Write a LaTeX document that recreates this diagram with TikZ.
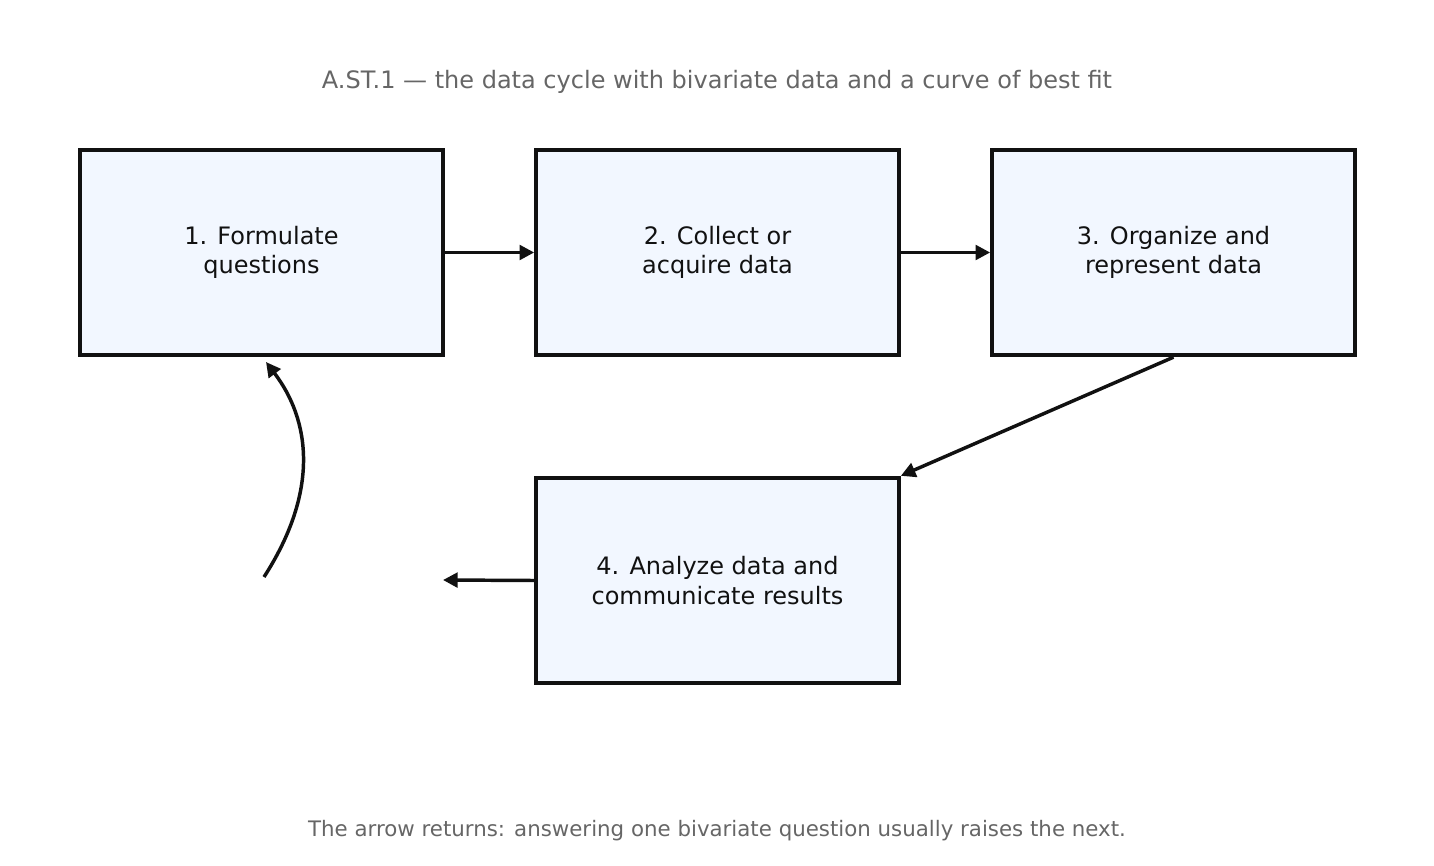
\documentclass[tikz,border=0pt]{standalone}
\usepackage{fontspec}
\setmainfont{DejaVu Sans}
\usetikzlibrary{arrows.meta}
\definecolor{boxfill}{HTML}{F2F7FF}
\definecolor{ink}{HTML}{111111}
\definecolor{note}{HTML}{666666}
\tikzset{
  stage/.style={draw=ink,line width=3pt,fill=boxfill,minimum width=272pt,minimum height=154pt,
    align=center,text=ink,font=\fontsize{18}{22}\selectfont,inner sep=0pt},
  flow/.style={draw=ink,line width=2.6pt,-{Triangle[length=11pt,width=11pt]}}
}
\begin{document}
\begin{tikzpicture}[x=0.75pt,y=-0.75pt]
  \useasboundingbox (0,0) rectangle (1434,866);
  % title and note
  \node[text=note,font=\fontsize{18}{22}\selectfont] (title) at (717,82) {A.ST.1 — the data cycle with bivariate data and a curve of best fit};
  \node[text=note,font=\fontsize{16}{20}\selectfont] (foot) at (717,831) {The arrow returns: answering one bivariate question usually raises the next.};

  % the four stages
  \node[stage] (form) at (261.5,252.5) {1. Formulate\\questions};
  \node[stage] (coll) at (717.5,252.5) {2. Collect or\\acquire data};
  \node[stage] (org) at (1173.5,252.5) {3. Organize and\\represent data};
  \node[stage] (anal) at (717.5,580.5) {4. Analyze data and\\communicate results};

  % free ends
  \coordinate (out) at (443,580);
  \coordinate (back) at (264,577);

  % connectors
  \draw[flow] (form.east) -- (coll.west);
  \draw[flow] (coll.east) -- (org.west);
  \draw[flow] (org.south) -- (anal.north east);
  \draw[flow] (anal.west) -- (out);
  \draw[flow] (back) .. controls (320,490) and (310,420) .. (266,362);
\end{tikzpicture}
\end{document}
